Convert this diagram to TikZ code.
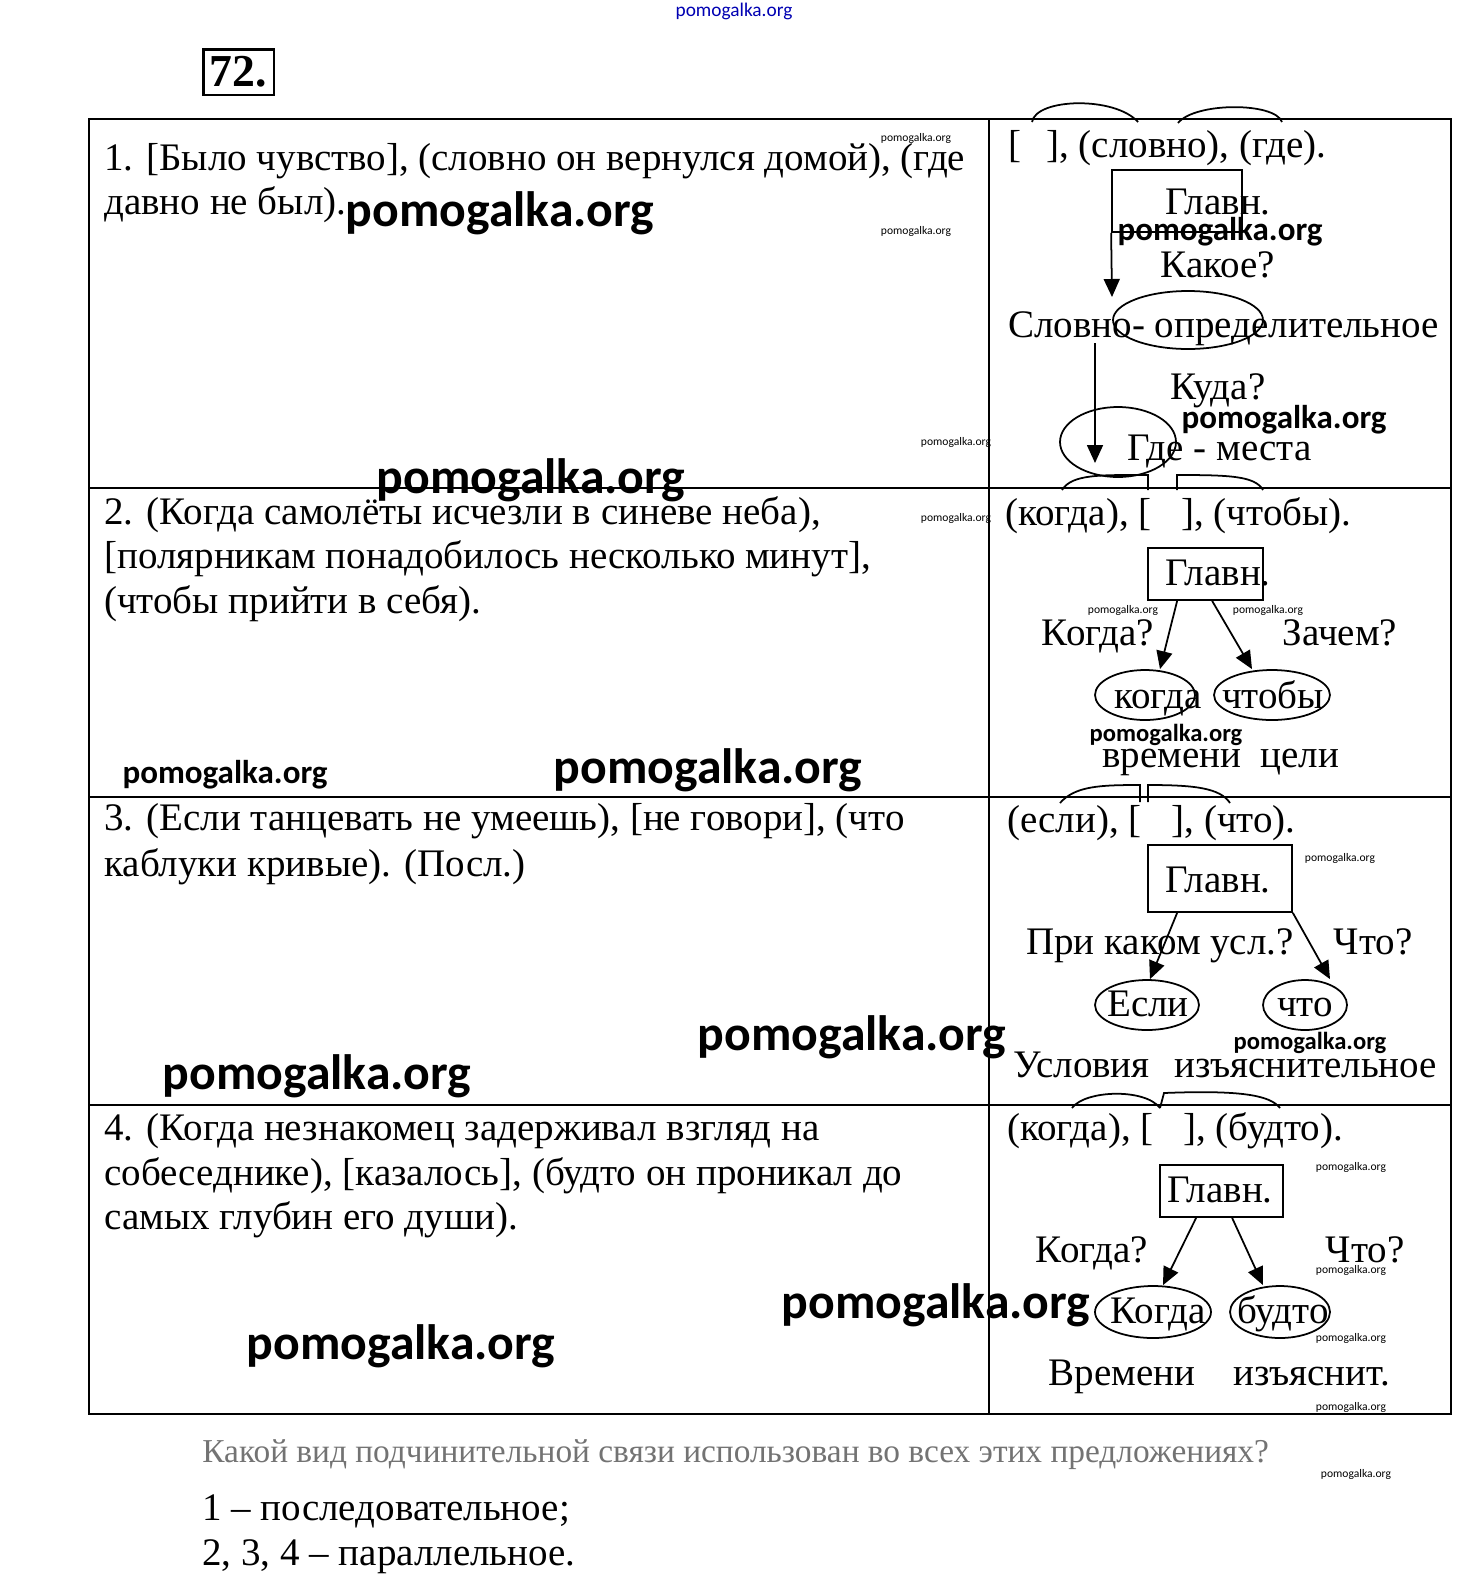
\documentclass[tikz,border=0pt]{standalone}
\usepackage{fontspec}
\setmainfont{Liberation Serif}
\newfontfamily\wmfont{Carlito}
\usetikzlibrary{arrows.meta,shapes.geometric}

\tikzset{
  txt/.style={inner sep=0pt, font=\fontsize{22.2}{25}\selectfont},
  glavbox/.style={draw, line width=1pt, inner sep=0pt},
  oval/.style={ellipse, draw, line width=1pt, inner sep=0pt, minimum height=1cm},
  arr/.style={line width=1pt, -{Triangle[length=0.36cm,width=0.32cm]}},
  arcline/.style={line width=1pt},
  wmbig/.style={inner sep=0pt, font=\wmfont\bfseries\fontsize{28.3}{30}\selectfont},
  wmmid/.style={inner sep=0pt, font=\wmfont\bfseries\fontsize{18.8}{20}\selectfont},
  wmsmall/.style={inner sep=0pt, font=\wmfont\bfseries\fontsize{14}{15}\selectfont},
  wmtiny/.style={inner sep=0pt, font=\wmfont\fontsize{6.6}{7}\selectfont},
}

\begin{document}
\begin{tikzpicture}[x=0.02cm, y=-0.02cm]
    \useasboundingbox (0,0) rectangle (1467,1586);

    % Heading
    \node[wmtiny, font=\wmfont\fontsize{11}{12}\selectfont, text=blue!70!black] (wtop) at (734,11) {pomogalka.org};
    \node[draw, line width=1.7pt, minimum width=1.42cm, minimum height=0.92cm, inner sep=0pt,
          font=\bfseries\fontsize{26}{28}\selectfont] (num) at (238.5,72) {72.};

    % Table
    \draw[line width=1.1pt] (89,119) rectangle (1451,1414);
    \draw[line width=0.9pt] (989,119) -- (989,1414);
    \draw[line width=0.9pt] (89,488) -- (1451,488);
    \draw[line width=0.9pt] (89,797) -- (1451,797);
    \draw[line width=0.9pt] (89,1105) -- (1451,1105);

    % Sentences
    \node[txt, anchor=base west] (r1a) at (104,170) {1. [Было чувство], (словно он вернулся домой), (где};
    \node[txt, anchor=base west] (r1b) at (104,214) {давно не был).};
    \node[txt, anchor=base west] (r2a) at (104,524) {2. (Когда самолёты исчезли в синеве неба),};
    \node[txt, anchor=base west] (r2b) at (104,568) {[полярникам понадобилось несколько минут],};
    \node[txt, anchor=base west] (r2c) at (104,613) {(чтобы прийти в себя).};
    \node[txt, anchor=base west] (r3a) at (104,830) {3. (Если танцевать не умеешь), [не говори], (что};
    \node[txt, anchor=base west] (r3b) at (104,876) {каблуки кривые). (Посл.)};
    \node[txt, anchor=base west] (r4a) at (104,1140) {4. (Когда незнакомец задерживал взгляд на};
    \node[txt, anchor=base west] (r4b) at (104,1185) {собеседнике), [казалось], (будто он проникал до};
    \node[txt, anchor=base west] (r4c) at (104,1229) {самых глубин его души).};

    % Scheme 1
    \draw[arcline] (1032,122) .. controls (1036,98) and (1115,96) .. (1138,122);
    \draw[arcline] (1178,123) .. controls (1195,102) and (1275,102) .. (1282,122);
    \node[txt, anchor=base west] (s1) at (1008,157) {[\hspace{0.5cm}], (словно), (где).};
    \node[glavbox, minimum width=2.6cm, minimum height=1.24cm] (glav1) at (1177,201) {};
    \node[txt, anchor=base] (glav1t) at (1218,214) {Главн.};
    \node[txt, anchor=base] (kakoe) at (1218,277) {Какое?};
    \coordinate (tip1) at (1112,297);
    \draw[arr] (glav1.south west) -- (tip1);
    \node[oval, minimum width=3cm, minimum height=1.16cm] (ov1a) at (1188,320) {};
    \node[txt, anchor=base west] (slovno) at (1008,337) {Словно- определительное};
    \node[txt, anchor=base] (kuda) at (1218,399) {Куда?};
    \node[oval, minimum width=2.32cm, minimum height=1.4cm] (ov1b) at (1118,442) {};
    \node[txt, anchor=base west] (gde) at (1127,460) {Где - места};
    \coordinate (down1) at (1095,343);
    \coordinate (tip2) at (1095,463);
    \draw[arr] (down1) -- (tip2);

    % Scheme 2
    \draw[arcline] (1062,490) .. controls (1072,474) and (1100,475) .. (1148,475) -- (1148,490);
    \draw[arcline] (1177,490) -- (1177,475) .. controls (1230,475) and (1255,476) .. (1263,490);
    \node[txt, anchor=base west] (s2) at (1005,525) {(когда), [\hspace{0.6cm}], (чтобы).};
    \node[glavbox, minimum width=2.3cm, minimum height=1.04cm] (glav2) at (1205.5,574) {};
    \node[txt, anchor=base] (glav2t) at (1218,585) {Главн.};
    \node[txt, anchor=base] (kogda2q) at (1098,645) {Когда?};
    \node[txt, anchor=base] (zachem) at (1340,645) {Зачем?};
    \node[oval, minimum width=2cm] (ov2a) at (1145,695) {};
    \node[oval, minimum width=2.32cm] (ov2b) at (1272,695) {};
    \node[txt, anchor=base] (kogda2) at (1158,708) {когда};
    \node[txt, anchor=base] (chtoby) at (1273,708) {чтобы};
    \draw[arr] ([xshift=0.6cm]glav2.south west) -- ([xshift=0.3cm]ov2a.north);
    \draw[arr] ([xshift=1.3cm]glav2.south west) -- ([xshift=-0.4cm]ov2b.north);
    \node[txt, anchor=base] (vremeni2) at (1172,767) {времени};
    \node[txt, anchor=base] (celi) at (1300,767) {цели};

    % Scheme 3
    \draw[arcline] (1060,803) .. controls (1075,786) and (1100,785) .. (1140,785) -- (1140,802);
    \draw[arcline] (1148,802) -- (1148,785) .. controls (1195,785) and (1220,788) .. (1230,803);
    \node[txt, anchor=base west] (s3) at (1007,832) {(если), [\hspace{0.6cm}], (что).};
    \node[glavbox, minimum width=2.88cm, minimum height=1.34cm] (glav3) at (1220,878.5) {};
    \node[txt, anchor=base] (glav3t) at (1218,892) {Главн.};
    \node[txt, anchor=base] (uslq) at (1160,954) {При каком усл.?};
    \node[txt, anchor=base] (chtoq3) at (1373,954) {Что?};
    \node[oval, minimum width=2.08cm] (ov3a) at (1147,1005) {};
    \node[oval, minimum width=1.68cm] (ov3b) at (1305,1005) {};
    \node[txt, anchor=base] (esli) at (1148,1016) {Если};
    \node[txt, anchor=base] (chto3) at (1305,1016) {что};
    \draw[arr] ([xshift=0.6cm]glav3.south west) -- ([xshift=0.06cm]ov3a.north);
    \draw[arr] (glav3.south east) -- ([xshift=0.5cm]ov3b.north);
    \node[txt, anchor=base west] (uslovia) at (1013,1077) {Условия\hspace{0.3cm} изъяснительное};

    % Scheme 4
    \draw[arcline] (1072,1108) .. controls (1085,1090) and (1145,1088) .. (1160,1108);
    \draw[arcline] (1160,1108) -- (1164,1093) .. controls (1240,1090) and (1270,1095) .. (1280,1108);
    \node[txt, anchor=base west] (s4) at (1007,1140) {(когда), [\hspace{0.6cm}], (будто).};
    \node[glavbox, minimum width=2.46cm, minimum height=1.04cm] (glav4) at (1221.5,1191) {};
    \node[txt, anchor=base] (glav4t) at (1220,1202) {Главн.};
    \node[txt, anchor=base] (kogda4q) at (1092,1262) {Когда?};
    \node[txt, anchor=base] (chtoq4) at (1365,1262) {Что?};
    \node[oval, minimum width=2.32cm, minimum height=1.04cm] (ov4a) at (1153,1312) {};
    \node[oval, minimum width=2cm, minimum height=1.04cm] (ov4b) at (1280,1312) {};
    \node[txt, anchor=base] (kogda4) at (1158,1323) {Когда};
    \node[txt, anchor=base] (budto) at (1283,1323) {будто};
    \draw[arr] ([xshift=0.74cm]glav4.south west) -- ([xshift=0.2cm]ov4a.north);
    \draw[arr] ([xshift=1.46cm]glav4.south west) -- ([xshift=-0.34cm]ov4b.north);
    \node[txt, anchor=base] (vremeni4) at (1122,1385) {Времени};
    \node[txt, anchor=base] (izjasnit) at (1312,1385) {изъяснит.};

    % Question and answer
    \node[txt, anchor=base west, font=\fontsize{19}{22}\selectfont, text=black!55] (quest) at (202,1462)
        {Какой вид подчинительной связи использован во всех этих предложениях?};
    \node[txt, anchor=base west] (ans1) at (202,1520) {1 – последовательное;};
    \node[txt, anchor=base west] (ans2) at (202,1565) {2, 3, 4 – параллельное.};

    % Watermarks
    \node[wmbig] (w1) at (500,213) {pomogalka.org};
    \node[wmbig] (w2) at (531,480) {pomogalka.org};
    \node[wmbig] (w3) at (708,770) {pomogalka.org};
    \node[wmbig] (w4) at (852,1037) {pomogalka.org};
    \node[wmbig] (w5) at (317,1076) {pomogalka.org};
    \node[wmbig] (w6) at (936,1305) {pomogalka.org};
    \node[wmbig] (w7) at (401,1346) {pomogalka.org};
    \node[wmmid] (w8) at (225,775) {pomogalka.org};
    \node[wmmid] (w9) at (1220,232) {pomogalka.org};
    \node[wmmid] (w10) at (1284,420) {pomogalka.org};
    \node[wmsmall] (w11) at (1166,735) {pomogalka.org};
    \node[wmsmall] (w12) at (1310,1043) {pomogalka.org};
    \node[wmtiny] (w13) at (916,138) {pomogalka.org};
    \node[wmtiny] (w14) at (916,231) {pomogalka.org};
    \node[wmtiny] (w15) at (956,442) {pomogalka.org};
    \node[wmtiny] (w16) at (956,518) {pomogalka.org};
    \node[wmtiny] (w17) at (1123,610) {pomogalka.org};
    \node[wmtiny] (w18) at (1268,610) {pomogalka.org};
    \node[wmtiny] (w19) at (1340,858) {pomogalka.org};
    \node[wmtiny] (w20) at (1351,1167) {pomogalka.org};
    \node[wmtiny] (w21) at (1351,1270) {pomogalka.org};
    \node[wmtiny] (w22) at (1351,1338) {pomogalka.org};
    \node[wmtiny] (w23) at (1351,1407) {pomogalka.org};
    \node[wmtiny] (w24) at (1356,1474) {pomogalka.org};
\end{tikzpicture}
\end{document}
